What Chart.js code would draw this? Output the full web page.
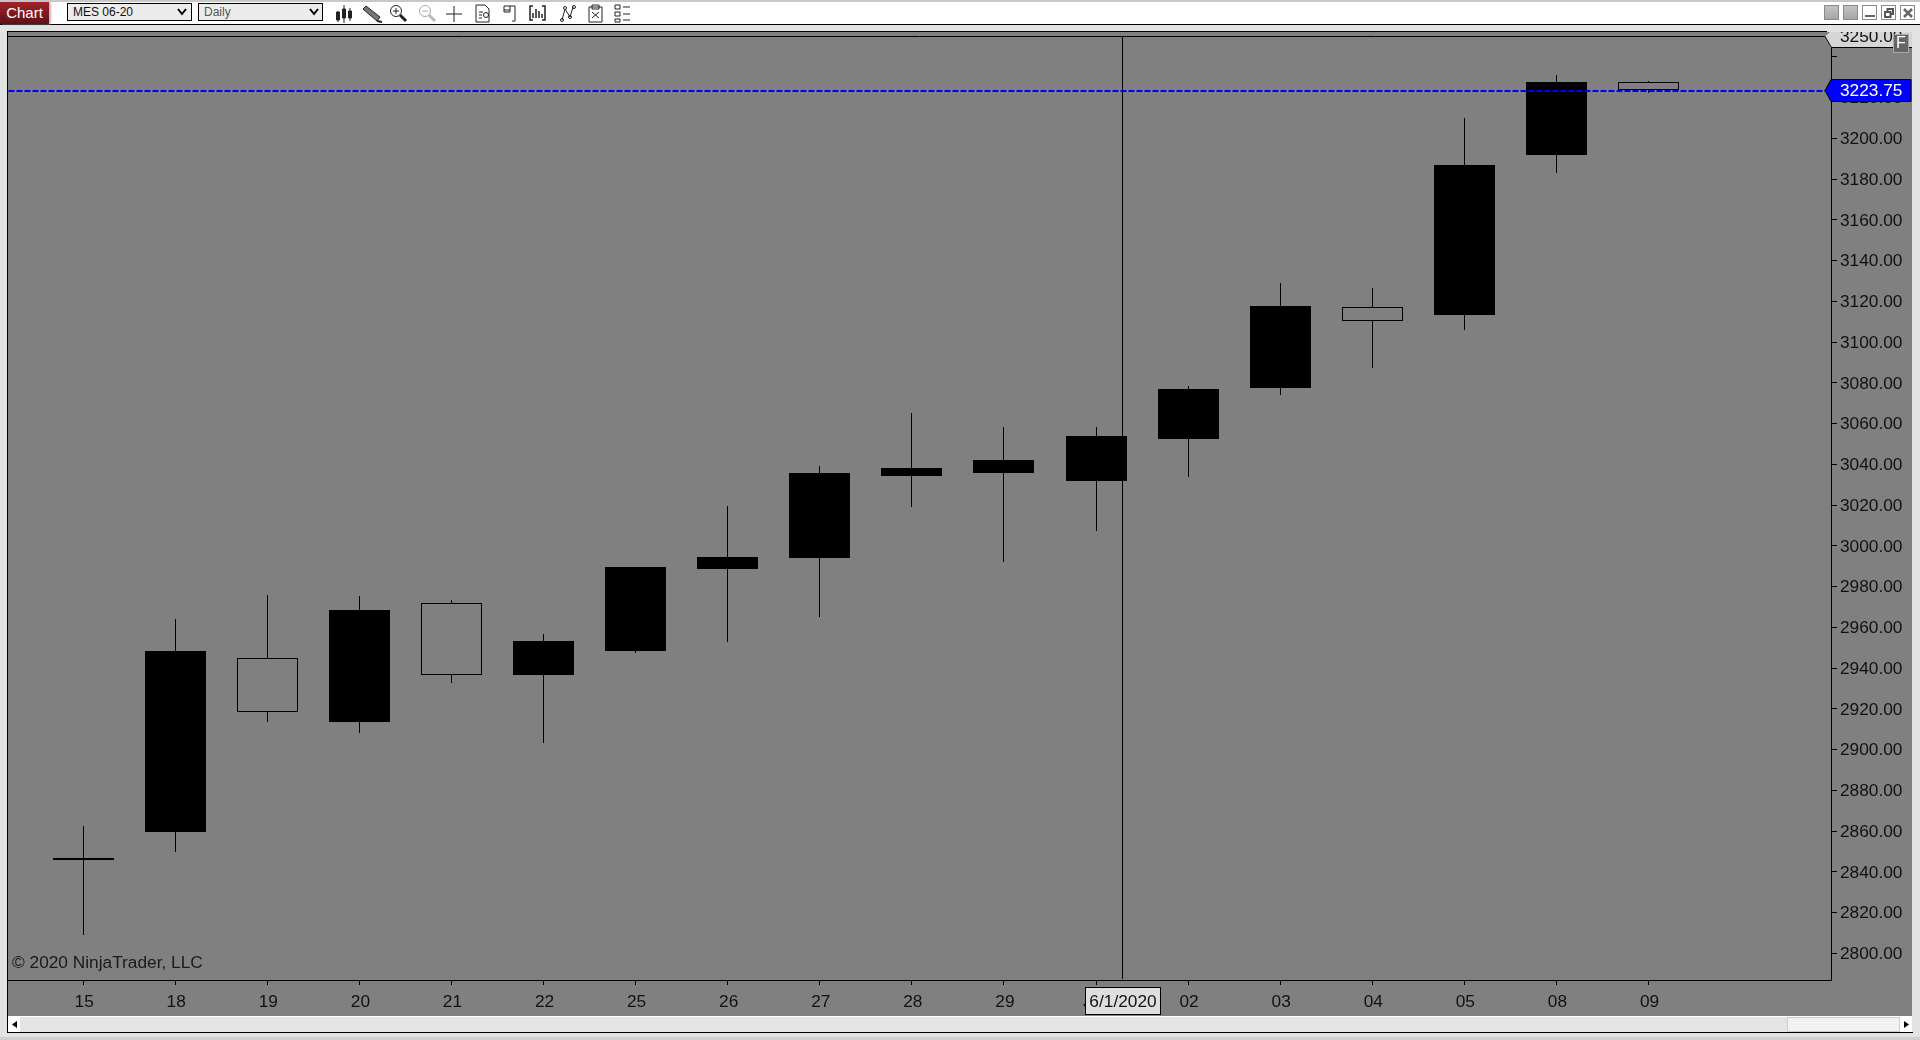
<!DOCTYPE html>
<html>
<head>
<meta charset="utf-8">
<title>MES 06-20 Daily</title>
<script src="https://cdn.jsdelivr.net/npm/chart.js@4/dist/chart.umd.min.js"></script>
<style>
    html, body { margin: 0; padding: 0; width: 1920px; height: 1040px; overflow: hidden; background: #e3e3e3; font-family: "Liberation Sans", Arial, sans-serif; }
    div, canvas, svg { position: absolute; box-sizing: border-box; }
    #topStrip { left: 0; top: 0; width: 1920px; height: 2px; background: #c8c8c8; }
    #toolbar { left: 0; top: 2px; width: 1920px; height: 23px; background: #fff; border-bottom: 1px solid #000; }
    #chartBtn { left: 0; top: 2px; width: 49px; height: 22px; background: linear-gradient(#a3222c, #5e1016); color: #fff; font-size: 15px; line-height: 22px; text-align: center; box-shadow: 2px 0 2px #bbb; }
    .pick { top: 3px; height: 18px; background: #ececec; border: 1px solid #000; font-size: 12px; line-height: 16px; padding-left: 5px; color: #111; }
    .winBtn { top: 5px; width: 15px; height: 15px; border: 1px solid #8a8a8a; background: #fff; }
    .winBtn.off { background: linear-gradient(#c4c2c2, #a9a6a6); }
    #frameLeft { left: 7px; top: 31px; width: 1px; height: 1002px; background: #000; }
    #frameTop { left: 7px; top: 31px; width: 1820px; height: 1px; background: #000; }
    #frameBottom { left: 7px; top: 1032px; width: 1906px; height: 1px; background: #000; }
    #outerBottom { left: 0; top: 1037px; width: 1920px; height: 3px; background: #cfcfcf; }
    #chartPane { left: 8px; top: 32px; background: #808080; }
    #scrollBar { left: 8px; top: 1016px; width: 1904px; height: 16px; background: #e4e4e4; border-top: 1px solid #fff; }
    #thumb { left: 1779px; top: 0; width: 113px; height: 15px; background: #f2f2f2; border: 1px solid #ccc; }
    .scrollEnd { top: 0; width: 12px; height: 15px; background: #fff; }
</style>
</head>
<body>
<div id="topStrip"></div>
<div id="toolbar"></div>
<div id="chartBtn">Chart</div>
<div class="pick" style="left:67px;width:125px">MES 06-20</div>
<div class="pick" style="left:198px;width:125px;color:#555">Daily</div>
<svg style="left:177px;top:8px" width="10" height="8"><path d="M1 1 L5 6 L9 1" fill="none" stroke="#000" stroke-width="2"/></svg>
<svg style="left:309px;top:8px" width="10" height="8"><path d="M1 1 L5 6 L9 1" fill="none" stroke="#000" stroke-width="2"/></svg>

<!-- toolbar icons -->
<svg style="left:330px;top:2px" width="310" height="22" fill="none" stroke="#222" stroke-width="1">
    <path d="M8 9 V20 M14 3 V21 M20 6 V19" stroke-width="1"/>
    <path d="M6.500 10 h3 v8 h-3z M12.500 7 h3 v9 h-3z M18.500 9 h3 v7 h-3z" fill="#222"/>
    <path d="M36 4 L50 15 L47 19 L33 7z" fill="#777"/><path d="M47 19 L52 20" stroke-width="2"/>
    <circle cx="66" cy="9" r="5.500"/><path d="M63 9 h6 M66 6 v6"/><path d="M70 13 L76 19" stroke-width="3"/>
    <circle cx="95" cy="9" r="5.500" stroke="#aaa"/><path d="M92 9 h6" stroke="#aaa"/><path d="M99 13 L105 19" stroke="#bbb" stroke-width="3"/>
    <path d="M124 4 V20 M116 12 H132"/>
    <path d="M146 3 h9 l4 4 v13 h-13z M149 10 h4 M149 13 h3 M149 16 h3"/><circle cx="156" cy="13" r="2.500"/>
    <path d="M174 4 h11 v15 h-3 M174 4 v6 h6 v-6 M174 8 h6"/>
    <path d="M203 4 h-3 v14 h3 M212 4 h3 v14 h-3 M203 16 v-5 M206 16 v-9 M209 16 v-7 M212 16 v-4" stroke-width="1.500"/>
    <path d="M232 18 L235 7 L240 15 L243 5"/><circle cx="232" cy="18" r="1.500"/><circle cx="235" cy="6" r="1.500"/><circle cx="240" cy="15" r="1.500"/><circle cx="244" cy="5" r="1.500"/>
    <path d="M259 5 h13 v15 h-13z M262 3 h7 v4 h-7z M262 10 L269 16 M269 10 L262 16"/>
    <path d="M285 3 h5 v4 h-5z M285 10 h5 v4 h-5z M285 17 h5 v3 h-5z M293 5 h7 M293 12 h7 M293 18 h7"/>
</svg>

<div class="winBtn off" style="left:1824px"></div>
<div class="winBtn off" style="left:1843px"></div>
<div class="winBtn" style="left:1862px"><svg style="left:2px;top:9px" width="10" height="3"><rect width="10" height="2" fill="#666"/></svg></div>
<div class="winBtn" style="left:1881px"><svg style="left:2px;top:2px" width="10" height="10" fill="none" stroke="#555" stroke-width="2"><rect x="3.500" y="1" width="5.500" height="5"/><rect x="1" y="4" width="5.500" height="5" fill="#fff"/></svg></div>
<div class="winBtn" style="left:1900px"><svg style="left:2px;top:2px" width="10" height="10"><path d="M1 1 L9 9 M9 1 L1 9" stroke="#666" stroke-width="2.500"/></svg></div>

<canvas id="chartPane" width="1904" height="984" style="width:1904px;height:984px"></canvas>

<div id="frameLeft"></div>
<div id="frameTop"></div>
<div id="scrollBar">
    <div class="scrollEnd" style="left:0"><svg style="left:4px;top:4px" width="5" height="7"><path d="M5 0 V7 L0 3.500z" fill="#000"/></svg></div>
    <div id="thumb"></div>
    <div class="scrollEnd" style="left:1892px"><svg style="left:4px;top:4px" width="5" height="7"><path d="M0 0 V7 L5 3.500z" fill="#000"/></svg></div>
</div>
<div id="frameBottom"></div>
<div id="outerBottom"></div>

<script>
// MES 06-20 daily bars
const dates = [`15`, `18`, `19`, `20`, `21`, `22`, `25`, `26`, `27`, `28`, `29`, `Jun`, `02`, `03`, `04`, `05`, `08`, `09`];
const opens = [2846, 2859.5, 2944.8, 2913.5, 2971.8, 2936.6, 2948.4, 2988.6, 2994, 3034.3, 3035.7, 3031.8, 3052.4, 3077.4, 3117.2, 3113.3, 3191.7, 3227.5];
const highs = [2862.5, 2964, 2975.9, 2975.4, 2973.4, 2956.7, 2989.6, 3019.5, 3039.2, 3065.2, 3058.3, 3058.3, 3078.6, 3129, 3126.5, 3210, 3231, 3228];
const lows = [2809, 2849.7, 2913.5, 2908.1, 2932.7, 2903.2, 2947.4, 2952.8, 2965, 3019, 2992, 3007.3, 3033.8, 3074, 3087.3, 3105.9, 3182.9, 3222];
const closes = [2847, 2948.4, 2918.6, 2968.5, 2936.7, 2953.3, 2989.6, 2994.5, 3035.7, 3038.2, 3042.1, 3053.9, 3077, 3117.7, 3110.3, 3186.9, 3227.6, 3223.75];
const priceTicks = [2800, 2820, 2840, 2860, 2880, 2900, 2920, 2940, 2960, 2980, 3000, 3020, 3040, 3060, 3080, 3100, 3120, 3140, 3160, 3180, 3200, 3220, 3240];
const lastPrice = 3223.75;
const topPrice = 3250;
const crosshairBar = 11.2877;
const crosshairLabel = `6/1/2020`;
const copyright = `\u00A9 2020 NinjaTrader, LLC`;
//
const xMin = -0.8161, xMax = 18.982;
const yMin = 2786.9, yMax = 3250.2;
const font = `"Liberation Sans", Arial, sans-serif`;
const fontSize = 17.3;

// keep bars and lines on whole pixels, the original has no smoothing on them
const snapPlugin = {
    id: `snap`,
    afterDatasetsUpdate(chart) {
        chart.getSortedVisibleDatasetMetas().forEach(meta => {
            meta.data.forEach(el => {
                el.x = Math.floor(el.x) + 0.5;
                if (meta.type === `bar`) {
                    el.y = Math.round(el.y);
                    el.base = Math.round(el.base);
                } else {
                    el.y = Math.round(el.y) + 1;
                }
            });
        });
    }
};

// price tags, frame line, date box and the corner text
const overlayPlugin = {
    id: `overlay`,
    afterDraw(chart) {
        const ctx = chart.ctx;
        const area = chart.chartArea;
        const yScale = chart.scales.y;
        ctx.save();
        // top of plot
        ctx.strokeStyle = `#000`;
        ctx.lineWidth = 1;
        ctx.beginPath();
        ctx.moveTo(area.left, area.top + 0.5);
        ctx.lineTo(area.right, area.top + 0.5);
        ctx.stroke();
        ctx.font = `${fontSize}px ${font}`;
        ctx.textBaseline = `middle`;
        ctx.textAlign = `left`;
        // copyright
        ctx.fillStyle = `#1a1a1a`;
        ctx.fillText(copyright, 4, 931);
        // grey tag with the top price
        const topY = yScale.getPixelForValue(topPrice);
        ctx.fillStyle = `#d6d6d6`;
        ctx.beginPath();
        ctx.moveTo(area.right - 1, 0);
        ctx.lineTo(area.right + 81, 0);
        ctx.lineTo(area.right + 81, 15.5);
        ctx.lineTo(area.right, 15.5);
        ctx.lineTo(area.right - 6, topY);
        ctx.closePath();
        ctx.fill();
        ctx.beginPath();
        ctx.moveTo(area.right - 6, topY);
        ctx.lineTo(area.right + 0.5, 15.5);
        ctx.lineTo(area.right + 81, 15.5);
        ctx.stroke();
        ctx.fillStyle = `#111`;
        ctx.fillText(topPrice.toFixed(2), area.right + 9, topY + 1);
        // F box
        ctx.fillStyle = `#666`;
        ctx.fillRect(area.right + 62, 2, 16, 19);
        ctx.strokeStyle = `#a8a8a8`;
        ctx.strokeRect(area.right + 62.5, 2.5, 15, 18);
        ctx.fillStyle = `#fff`;
        ctx.textAlign = `center`;
        ctx.font = `16px ${font}`;
        ctx.fillText(`F`, area.right + 70, 12);
        // blue tag with the last price
        const lastY = Math.round(yScale.getPixelForValue(lastPrice)) + 0.5;
        ctx.fillStyle = `#0000ff`;
        ctx.strokeStyle = `#000`;
        ctx.beginPath();
        ctx.moveTo(area.right - 6, lastY);
        ctx.lineTo(area.right, lastY - 11);
        ctx.lineTo(area.right + 80, lastY - 11);
        ctx.lineTo(area.right + 80, lastY + 11);
        ctx.lineTo(area.right, lastY + 11);
        ctx.closePath();
        ctx.fill();
        ctx.stroke();
        ctx.fillStyle = `#fff`;
        ctx.textAlign = `left`;
        ctx.font = `${fontSize}px ${font}`;
        ctx.fillText(lastPrice.toFixed(2), area.right + 9, lastY + 1);
        // date box under the crosshair
        const crossX = Math.floor(chart.scales.x.getPixelForValue(crosshairBar)) + 0.5;
        ctx.fillStyle = `#dedede`;
        ctx.fillRect(crossX - 37, 955.5, 75, 27);
        ctx.strokeRect(crossX - 37, 955.5, 75, 27);
        ctx.fillStyle = `#111`;
        ctx.textAlign = `center`;
        ctx.fillText(crosshairLabel, crossX + 0.5, 970);
        ctx.restore();
    }
};
//
function candleColor(i) {
    return closes[i] >= opens[i] ? `#000` : `#808080`;
}
// labels near the plot edge must not push the plot in
function noPadding(scale) {
    scale.paddingTop = 0;
    scale.paddingBottom = 0;
    scale.paddingLeft = 0;
    scale.paddingRight = 0;
}
//
const wickData = dates.map((d, i) => ({ x: i, y: [lows[i], highs[i]] }));
const bodyData = dates.map((d, i) => ({ x: i, y: [opens[i], closes[i]] }));

new Chart(`chartPane`, {
    type: `bar`,
    data: {
        datasets: [
            {
                label: `Last`,
                type: `line`,
                data: [{ x: xMin, y: lastPrice }, { x: xMax, y: lastPrice }],
                borderColor: `#0000ff`,
                borderWidth: 2,
                borderDash: [6, 2],
                pointRadius: 0,
                order: 0
            },
            {
                label: `Crosshair`,
                type: `line`,
                data: [{ x: crosshairBar, y: 2788 }, { x: crosshairBar, y: yMax }],
                borderColor: `#000`,
                borderWidth: 1,
                pointRadius: 0,
                order: 1
            },
            {
                label: `Body`,
                data: bodyData,
                backgroundColor: dates.map((d, i) => candleColor(i)),
                borderColor: `#000`,
                borderWidth: 1,
                borderSkipped: false,
                inflateAmount: 0,
                barThickness: 61,
                grouped: false,
                order: 2
            },
            {
                label: `Wick`,
                data: wickData,
                backgroundColor: `#000`,
                borderWidth: 0,
                inflateAmount: 0,
                barThickness: 1,
                grouped: false,
                order: 3
            }
        ]
    },
    options: {
        responsive: false,
        animation: false,
        events: [],
        layout: { autoPadding: false, padding: { top: 4 } },
        plugins: { legend: { display: false }, tooltip: { enabled: false }, title: { display: false } },
        scales: {
            x: {
                type: `linear`,
                min: xMin,
                max: xMax,
                offset: false,
                grid: { offset: false, drawOnChartArea: false, color: `#000`, tickLength: 5 },
                border: { display: true, color: `#000`, width: 1 },
                afterBuildTicks: scale => { scale.ticks = dates.map((d, i) => ({ value: i })); },
                afterFit: scale => { scale.height = 36; noPadding(scale); },
                ticks: {
                    autoSkip: false,
                    maxRotation: 0,
                    padding: 7,
                    labelOffset: 1,
                    color: `#111`,
                    font: { family: font, size: fontSize },
                    callback: value => dates[value]
                }
            },
            y: {
                position: `right`,
                min: yMin,
                max: yMax,
                grid: { drawOnChartArea: false, color: `#000`, tickLength: 6 },
                border: { display: true, color: `#000`, width: 1 },
                afterBuildTicks: scale => { scale.ticks = priceTicks.map(value => ({ value })); },
                afterFit: scale => { scale.width = 81; noPadding(scale); },
                ticks: {
                    padding: 3,
                    labelOffset: 1,
                    color: `#111`,
                    font: { family: font, size: fontSize },
                    callback: value => value === 3240 ? `` : value.toFixed(2)
                }
            }
        }
    },
    plugins: [snapPlugin, overlayPlugin]
});
</script>
</body>
</html>
